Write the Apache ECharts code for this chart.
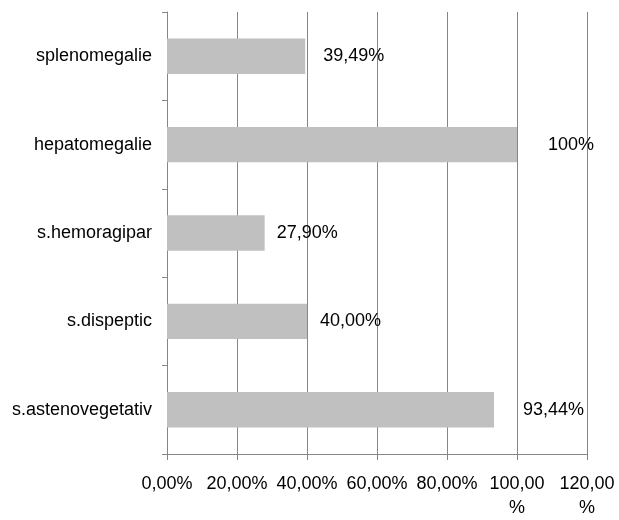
<!DOCTYPE html>
<html>
<head>
<meta charset="utf-8">
<script src="https://cdn.jsdelivr.net/npm/echarts@6/dist/echarts.min.js"></script>
<style>
  html, body { margin: 0; padding: 0; background: #fff; }
  #chart { width: 619px; height: 520px; }
</style>
</head>
<body>
<div id="chart"></div>
<script>
// categories, top to bottom
var categories = ['splenomegalie', 'hepatomegalie', 's.hemoragipar', 's.dispeptic', 's.astenovegetativ'];
// percent values
var values = [39.49, 100, 27.90, 40.00, 93.44];
var valueLabels = ['39,49%', '100%', '27,90%', '40,00%', '93,44%'];
// x axis tick labels (0..120 step 20)
var tickLabels = ['0,00%', '20,00%', '40,00%', '60,00%', '80,00%', '100,00\n%', '120,00\n%'];

// gap between bar end and its label, px (labels were moved by hand in the original)
var labelGap = [18, 31, 12, 13, 29];

var font = '"Liberation Sans", Arial, sans-serif';
var lineColor = '#868686';

var chart = echarts.init(document.getElementById('chart'), null, { renderer: 'canvas' });

var barData = values.map(function (v, i) {
  return {
    value: v,
    label: {
      distance: labelGap[i],
      formatter: function () { return valueLabels[i]; }
    }
  };
});

var option = {
  animation: false,
  backgroundColor: '#fff',
  grid: {
    left: 167,
    right: 32,
    top: 12,
    bottom: 65,
    containLabel: false
  },
  xAxis: {
    type: 'value',
    min: 0,
    max: 120,
    interval: 20,
    axisLine: { show: true, lineStyle: { color: lineColor, width: 1 } },
    axisTick: { show: true, length: 6, lineStyle: { color: lineColor } },
    splitLine: { show: true, lineStyle: { color: lineColor, width: 1 } },
    axisLabel: {
      margin: 18,
      color: '#000',
      fontSize: 18,
      fontFamily: font,
      lineHeight: 24,
      formatter: function (v) { return tickLabels[Math.round(v / 20)]; }
    }
  },
  yAxis: {
    type: 'category',
    inverse: true,
    data: categories,
    axisLine: { show: true, lineStyle: { color: lineColor, width: 1 } },
    axisTick: { show: true, length: 5, lineStyle: { color: lineColor } },
    splitLine: { show: false },
    axisLabel: {
      margin: 15,
      color: '#000',
      fontSize: 18,
      fontFamily: font
    }
  },
  series: [{
    type: 'bar',
    data: barData,
    barCategoryGap: '60%',
    itemStyle: { color: '#c0c0c0' },
    label: {
      show: true,
      position: 'right',
      color: '#000',
      fontSize: 18,
      fontFamily: font
    }
  }]
};

chart.setOption(option);
</script>
</body>
</html>
